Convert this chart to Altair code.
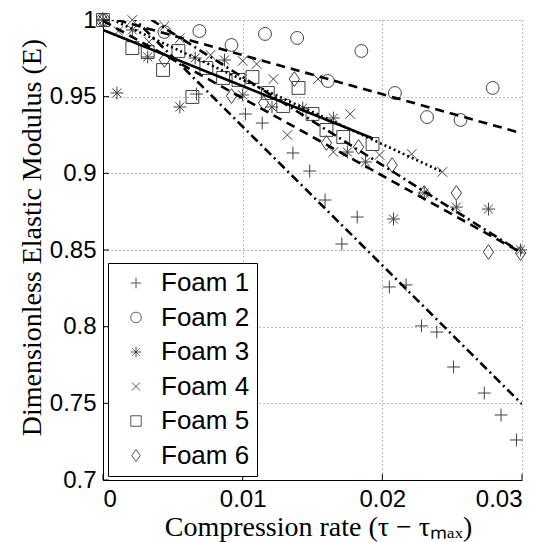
import altair as alt
import pandas as pd

foams = ["Foam 1", "Foam 2", "Foam 3", "Foam 4", "Foam 5", "Foam 6"]

f1_x = [0, 0.0067, 0.0102, 0.0114, 0.0136, 0.0148, 0.0159, 0.0182, 0.0171, 0.0205, 0.0217, 0.0228, 0.0239, 0.0251, 0.0273, 0.0285, 0.0296]
f1_y = [1.0, 0.9517, 0.9387, 0.9328, 0.9133, 0.9015, 0.8826, 0.8715, 0.8539, 0.8259, 0.8272, 0.8005, 0.7965, 0.7737, 0.7567, 0.7424, 0.7261]

f2_x = [0, 0.0044, 0.0069, 0.0092, 0.0116, 0.0139, 0.0161, 0.0185, 0.0209, 0.0232, 0.0256, 0.0279]
f2_y = [1.0, 0.9922, 0.9928, 0.9837, 0.9909, 0.9883, 0.9602, 0.9798, 0.9524, 0.9367, 0.9348, 0.9557]

f3_x = [0, 0.0010, 0.0021, 0.0032, 0.0055, 0.0066, 0.0087, 0.0100, 0.0121, 0.0143, 0.0165, 0.0175, 0.0188, 0.0208, 0.0230, 0.0253, 0.0276, 0.0299]
f3_y = [1.0, 0.9524, 0.9935, 0.9759, 0.9433, 0.9752, 0.9739, 0.9511, 0.9433, 0.9426, 0.9361, 0.9139, 0.9074, 0.8702, 0.8872, 0.8780, 0.8767, 0.8500]

f4_x = [0, 0.0011, 0.0021, 0.0033, 0.0044, 0.0055, 0.0077, 0.0100, 0.0110, 0.0122, 0.0132, 0.0154, 0.0165, 0.0177, 0.0198, 0.0221, 0.0243]
f4_y = [1.0, 0.9928, 1.0, 0.9857, 0.9960, 0.9880, 0.9772, 0.9733, 0.9713, 0.9615, 0.9250, 0.9615, 0.9139, 0.9387, 0.9120, 0.9126, 0.9009]

f5_x = [0, 0.0021, 0.0032, 0.0043, 0.0054, 0.0064, 0.0074, 0.0086, 0.0097, 0.0107, 0.0118, 0.0129, 0.0140, 0.0150, 0.0160, 0.0172, 0.0193]
f5_y = [1.0, 0.9817, 0.9791, 0.9674, 0.9798, 0.9498, 0.9687, 0.9622, 0.9609, 0.9628, 0.9524, 0.9439, 0.9557, 0.9387, 0.9283, 0.9237, 0.9191]

f6_x = [0, 0.0044, 0.0092, 0.0115, 0.0137, 0.0160, 0.0183, 0.0207, 0.0230, 0.0253, 0.0276, 0.0299]
f6_y = [1.0, 0.9739, 0.9504, 0.9459, 0.9615, 0.9198, 0.9172, 0.9054, 0.8872, 0.8872, 0.8487, 0.8480]

# linear fits: E = b0 + b1 * x, drawn over [0, xmax]
fit_b0 = [1.021, 1.0026, 0.9995, 1.003, 0.9935, 1.020]
fit_b1 = [-9.05, -2.55, -5.05, -4.2, -3.66, -5.73]
fit_xmax = [0.03, 0.03, 0.03, 0.0243, 0.0193, 0.03]

x_ticks = [0, 0.01, 0.02, 0.03]
y_ticks = [0.7, 0.75, 0.8, 0.85, 0.9, 0.95, 1.0]

all_x = [f1_x, f2_x, f3_x, f4_x, f5_x, f6_x]
all_y = [f1_y, f2_y, f3_y, f4_y, f5_y, f6_y]
rows = []
for name, xs_, ys_ in zip(foams, all_x, all_y):
    for xv, yv in zip(xs_, ys_):
        rows.append({"foam": name, "x": xv, "y": yv})
points = pd.DataFrame(rows)

lrows = []
for name, b0, b1, xm in zip(foams, fit_b0, fit_b1, fit_xmax):
    for xv in (0.0, xm):
        lrows.append({"fitname": name + " fit", "x": xv, "y": b0 + b1 * xv})
lines = pd.DataFrame(lrows)
fit_names = [f + " fit" for f in foams]

shape_paths = [
    "M-1,0L1,0M0,-1L0,1",
    "circle",
    "M-1,0L1,0M0,-1L0,1M-0.7,-0.7L0.7,0.7M-0.7,0.7L0.7,-0.7",
    "M-0.75,-0.75L0.75,0.75M-0.75,0.75L0.75,-0.75",
    "square",
    "M0,-1.15L0.8,0L0,1.15L-0.8,0Z",
]
dashes = [[9, 4, 2, 4], [9, 6], [9, 6], [2, 3], [1, 0], [9, 4, 2, 4]]

xs = alt.Scale(domain=[0, 0.03], nice=False, zero=False)
ys = alt.Scale(domain=[0.7, 1.0], nice=False, zero=False)

xaxis = alt.Axis(values=x_ticks, format="~g", title="Compression rate (τ − τₘₐₓ)",
                 labelPadding=7, titlePadding=2, titleX=215)
yaxis = alt.Axis(values=y_ticks, format="~g", title="Dimensionless Elastic Modulus (E)",
                 labelPadding=7, titlePadding=3, titleY=217)

pts = alt.Chart(points).mark_point(filled=False, color="#404040", strokeWidth=1, size=165, opacity=1).encode(
    x=alt.X("x:Q", scale=xs, axis=xaxis),
    y=alt.Y("y:Q", scale=ys, axis=yaxis),
    shape=alt.Shape("foam:N", scale=alt.Scale(domain=foams, range=shape_paths),
                    legend=alt.Legend(title=None, orient="none", legendX=5, legendY=243,
                                      padding=7, strokeColor="black", fillColor="white",
                                      labelFontSize=26, labelFont="Liberation Sans", labelColor="black",
                                      symbolSize=110, symbolStrokeWidth=1, symbolStrokeColor="#404040",
                                      symbolFillColor="transparent", symbolDash=[1, 0], rowPadding=8.5,
                                      symbolOffset=8, labelOffset=12)),
)

fit = alt.Chart(lines).mark_line(color="black", strokeWidth=2.6, clip=True).encode(
    x=alt.X("x:Q", scale=xs),
    y=alt.Y("y:Q", scale=ys),
    detail="fitname:N",
    strokeDash=alt.StrokeDash("fitname:N", scale=alt.Scale(domain=fit_names, range=dashes), legend=None),
)

xt = alt.Chart(pd.DataFrame({"x": x_ticks})).mark_rule(color="black", strokeWidth=1).encode(
    x=alt.X("x:Q", scale=xs), y=alt.value(460), y2=alt.value(454))
yt = alt.Chart(pd.DataFrame({"y": y_ticks})).mark_rule(color="black", strokeWidth=1).encode(
    y=alt.Y("y:Q", scale=ys), x=alt.value(0), x2=alt.value(6))

chart = alt.layer(pts, fit, xt, yt).resolve_scale(
    shape="independent", strokeDash="independent"
).properties(
    width=419, height=460,
    autosize=alt.AutoSizeParams(type="none"),
    padding={"left": 95, "top": 12, "right": 23, "bottom": 62},
).configure_view(stroke=None).configure_axis(
    domainColor="black", domainWidth=1, ticks=False,
    grid=True, gridColor="#777", gridDash=[1, 3], gridWidth=1, gridOpacity=1,
    labelFont="Liberation Sans", labelFontSize=24, labelColor="black",
    titleFont="Liberation Serif", titleFontSize=28, titleFontWeight="normal", titleColor="black",
)

chart.save("out.html", embed_options={"renderer": "svg", "actions": False})
